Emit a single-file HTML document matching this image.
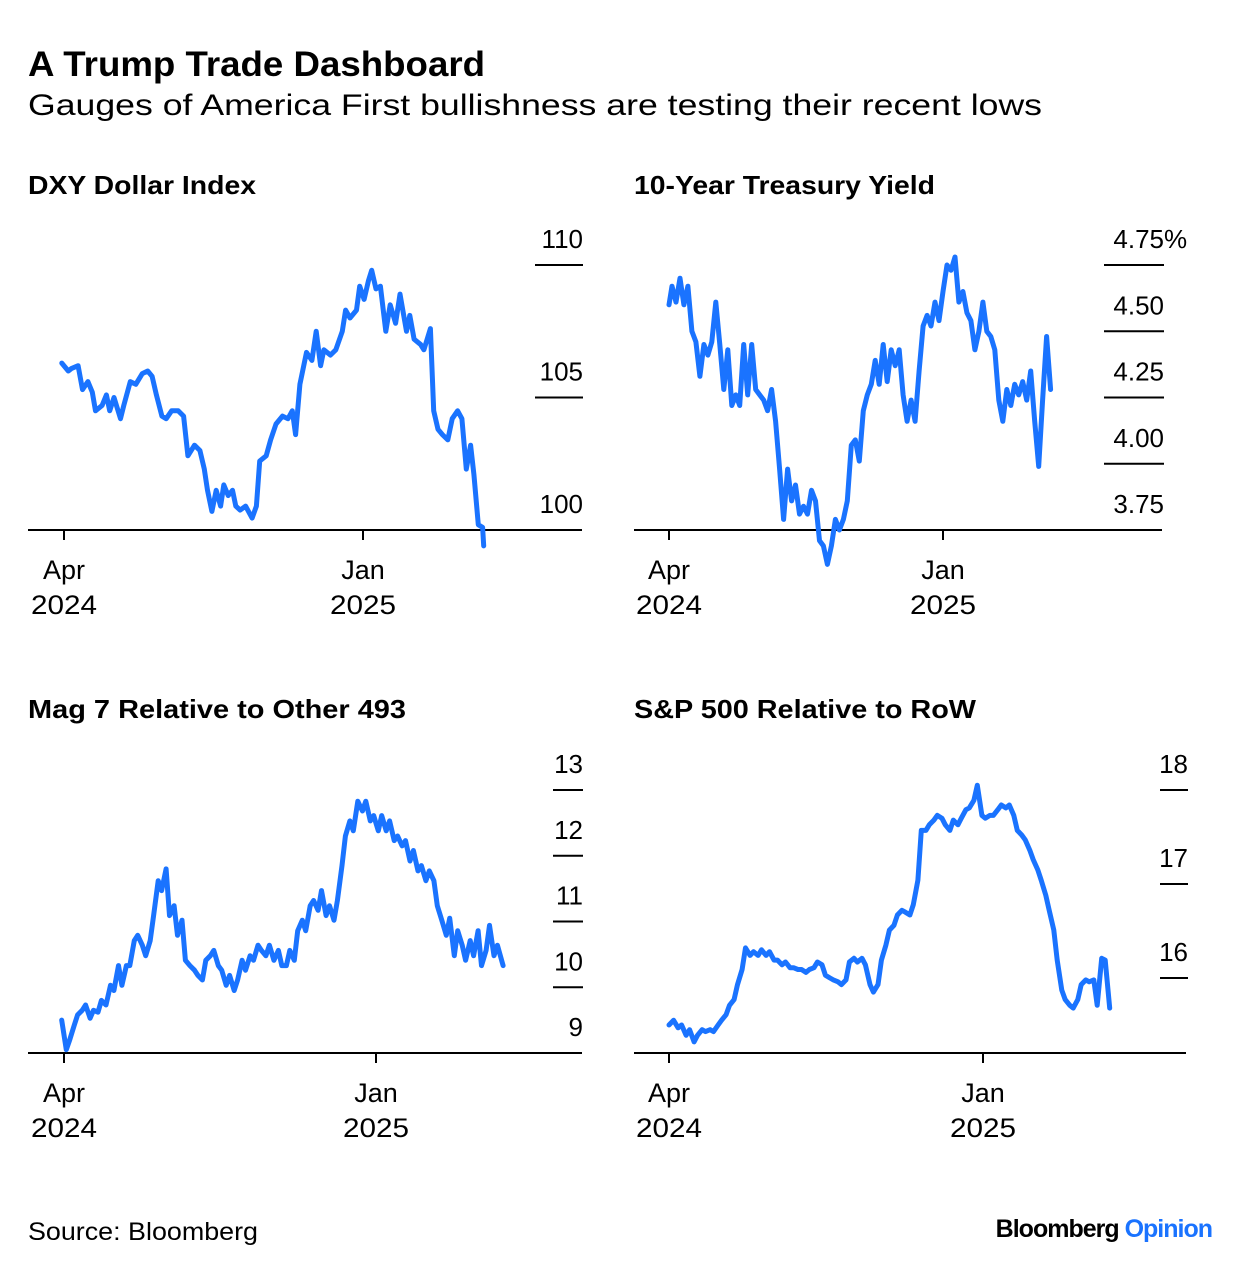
<!DOCTYPE html>
<html>
<head>
<meta charset="utf-8">
<style>
html,body{margin:0;padding:0;background:#fff;}
svg{display:block;font-family:"Liberation Sans",Arial,sans-serif;}
</style>
</head>
<body>
<svg id="chart" width="1240" height="1272" viewBox="0 0 1240 1272" xmlns="http://www.w3.org/2000/svg">
  <rect width="1240" height="1272" fill="#fff"/>
  <text x="28" y="76" font-size="35" font-weight="bold" fill="#000" textLength="457" lengthAdjust="spacingAndGlyphs">A Trump Trade Dashboard</text>
  <text x="28" y="115" font-size="30" fill="#000" textLength="1014" lengthAdjust="spacingAndGlyphs">Gauges of America First bullishness are testing their recent lows</text>
  <text x="28" y="194" font-size="26" font-weight="bold" textLength="228" lengthAdjust="spacingAndGlyphs">DXY Dollar Index</text>
  <text x="634" y="194" font-size="26" font-weight="bold" textLength="301" lengthAdjust="spacingAndGlyphs">10-Year Treasury Yield</text>
  <text x="28" y="718" font-size="26" font-weight="bold" textLength="378" lengthAdjust="spacingAndGlyphs">Mag 7 Relative to Other 493</text>
  <text x="634" y="718" font-size="26" font-weight="bold" textLength="342" lengthAdjust="spacingAndGlyphs">S&amp;P 500 Relative to RoW</text>
  <text x="28" y="1240" font-size="25" textLength="230" lengthAdjust="spacingAndGlyphs">Source: Bloomberg</text>
  <text x="1212" y="1237" font-size="25" font-weight="bold" text-anchor="end" letter-spacing="-1"><tspan fill="#000">Bloomberg </tspan><tspan fill="#1a73ff">Opinion</tspan></text>
  <g id="panels"></g>
</svg>
<script>
// ---- DXY data (days since 2024-04-01) ----
const dxyDays = [-2,4,7,13,17,22,26,29,35,39,42,46,52,55,61,66,72,77,81,85,90,94,99,105,110,114,120,125,129,132,136,140,144,147,151,155,158,162,167,173,177,180,186,190,195,201,206,210,213,217,223,228,232,236,239,245,250,256,259,263,269,272,276,280,283,287,291,296,300,305,309,315,318,322,328,331,337,340,344,348,353,357,362,366,370,374,377,381,385,386];
const dxyValues = [106.3,106.0,106.1,106.2,105.3,105.6,105.2,104.5,104.7,105.1,104.5,105.0,104.2,104.7,105.6,105.5,105.9,106.0,105.8,105.1,104.3,104.2,104.5,104.5,104.3,102.8,103.2,103.0,102.3,101.5,100.7,101.5,100.9,101.7,101.3,101.5,100.9,100.75,100.9,100.45,100.9,102.6,102.8,103.4,104.0,104.3,104.2,104.5,103.6,105.5,106.7,106.4,107.5,106.2,106.8,106.6,106.8,107.5,108.3,108.0,108.3,109.2,108.7,109.4,109.8,109.1,109.2,107.5,108.5,107.8,108.9,107.5,108.1,107.2,107.0,106.8,107.6,104.5,103.8,103.6,103.4,104.2,104.5,104.2,102.3,103.2,102.1,100.2,100.1,99.4];
const dxyTicks = [100,105,110];
const dxyTickLabels = ["100","105","110"];

// ---- 10-year yield ----
const ustDays = [0,3,7,11,15,19,23,27,31,35,39,43,47,51,55,59,63,67,71,75,79,83,87,91,95,99,103,107,111,115,119,123,127,131,135,139,143,147,151,155,159,163,167,171,175,179,183,187,191,195,199,203,207,211,215,219,223,227,231,235,239,243,247,251,255,259,263,267,271,275,279,283,287,291,295,299,303,307,311,315,319,323,327,331,335,339,343,347,351,355,359,363,367,371,375,379,383];
const ustValues = [4.60,4.67,4.61,4.70,4.60,4.67,4.50,4.46,4.33,4.45,4.41,4.46,4.61,4.45,4.28,4.43,4.22,4.26,4.22,4.45,4.26,4.45,4.28,4.26,4.24,4.20,4.28,4.16,3.98,3.79,3.98,3.86,3.92,3.81,3.84,3.81,3.90,3.86,3.71,3.69,3.62,3.69,3.79,3.75,3.79,3.86,4.07,4.09,4.01,4.20,4.26,4.30,4.39,4.30,4.45,4.31,4.43,4.37,4.43,4.26,4.16,4.24,4.16,4.35,4.52,4.56,4.52,4.61,4.54,4.65,4.75,4.73,4.78,4.61,4.65,4.57,4.54,4.43,4.50,4.61,4.50,4.48,4.43,4.24,4.16,4.28,4.22,4.30,4.26,4.31,4.24,4.35,4.16,3.99,4.24,4.48,4.28];
const ustTicks = [3.75,4.00,4.25,4.50,4.75];
const ustTickLabels = ["3.75","4.00","4.25","4.50","4.75"];

// ---- Mag 7 relative ----
const magDays = [-2,2,5,9,12,16,19,23,26,30,33,37,41,44,48,51,55,58,62,65,69,72,76,79,83,86,90,93,97,100,104,107,111,115,118,122,125,129,132,136,139,143,146,150,153,157,160,164,167,171,174,178,181,185,189,192,196,199,203,206,210,213,217,220,224,227,231,234,238,241,245,248,252,255,259,263,266,270,273,277,280,284,287,291,294,298,301,305,308,312,315,319,322,326,329,333,337,340,344,347,351,354,358,361,365,368,372,375,379,382,387];
const magValues = [9.5,9.05,9.2,9.42,9.58,9.65,9.73,9.53,9.65,9.62,9.8,9.73,10.03,9.95,10.33,10.03,10.33,10.33,10.71,10.79,10.64,10.48,10.71,11.09,11.62,11.47,11.80,11.09,11.24,10.79,11.02,10.41,10.33,10.26,10.18,10.11,10.41,10.48,10.56,10.33,10.26,10.03,10.18,9.95,10.11,10.41,10.26,10.48,10.41,10.64,10.56,10.48,10.64,10.41,10.56,10.33,10.33,10.56,10.41,10.86,11.02,10.86,11.24,11.32,11.17,11.47,11.09,11.24,11.02,11.32,11.85,12.30,12.53,12.38,12.83,12.68,12.83,12.53,12.61,12.38,12.61,12.38,12.53,12.23,12.30,12.15,12.23,11.92,12.08,11.77,11.85,11.62,11.77,11.62,11.24,11.02,10.79,11.05,10.48,10.86,10.64,10.41,10.71,10.48,10.86,10.33,10.56,10.94,10.48,10.64,10.33];
const magTicks = [9,10,11,12,13];
const magTickLabels = ["9","10","11","12","13"];

// ---- S&P 500 relative to RoW ----
const spxDays = [0,4,8,11,15,18,22,25,29,32,36,39,43,46,50,53,57,60,64,67,71,74,78,81,85,88,92,95,99,102,106,109,113,116,120,123,127,130,134,137,141,144,148,151,155,158,162,165,169,172,176,179,183,186,190,193,197,200,204,207,211,214,218,221,225,228,232,235,239,242,246,249,253,256,260,263,267,270,274,277,281,284,288,291,295,298,302,305,309,312,316,319,323,326,330,333,337,340,344,347,351,354,358,361,365,368,372,375,379,382,386];
const spxValues = [15.50,15.55,15.47,15.50,15.39,15.45,15.32,15.39,15.45,15.43,15.45,15.43,15.50,15.55,15.61,15.71,15.77,15.93,16.09,16.32,16.24,16.28,16.24,16.30,16.24,16.28,16.19,16.19,16.14,16.17,16.11,16.11,16.09,16.09,16.06,16.09,16.11,16.17,16.14,16.03,16.00,15.98,15.96,15.93,15.98,16.17,16.21,16.17,16.21,16.14,15.93,15.85,15.93,16.19,16.35,16.51,16.56,16.67,16.72,16.70,16.67,16.78,17.04,17.57,17.57,17.63,17.68,17.73,17.70,17.63,17.57,17.68,17.63,17.70,17.79,17.81,17.89,18.05,17.73,17.70,17.73,17.73,17.79,17.84,17.81,17.84,17.73,17.57,17.52,17.47,17.36,17.26,17.15,17.04,16.88,16.72,16.51,16.19,15.87,15.77,15.71,15.68,15.77,15.93,15.98,15.96,15.98,15.71,16.21,16.19,15.68];
const spxTicks = [16,17,18];
const spxTickLabels = ["16","17","18"];

const NS = "http://www.w3.org/2000/svg";
const root = document.getElementById("panels");
function mk(tag, attrs, parent){
  const e = document.createElementNS(NS, tag);
  for (const k in attrs) e.setAttribute(k, attrs[k]);
  (parent||root).appendChild(e);
  return e;
}

function drawPanel(key, days, values, ticks, tickLabels, L){
  const g = mk("g", {});
  
  
  const xScale = d => L.aprX + d * (L.janX - L.aprX) / 275;
  const yScale = v => L.yA + (v - L.vA) * (L.yB - L.yA) / (L.vB - L.vA);
  ticks.forEach((t, i) => {
    const gy = yScale(t);
    if (Math.abs(gy - L.baseY) > 2) {
      const gl = mk("line", {x1:L.gx0, x2:L.gx1, y1:gy, y2:gy, stroke:"#000", "stroke-width":2}, g);
      
      
    }
    const tx = mk("text", {x:L.labelX, y:gy-17, "font-size":26, "text-anchor":"end"}, g);
    tx.textContent = tickLabels[i];
    
    
    if (L.pct && i === ticks.length-1) {
      const p = mk("text", {x:L.labelX, y:gy-17, "font-size":26}, g);
      p.textContent = "%";
      
      
    }
  });
  const ax = mk("line", {x1:L.x0, x2:L.x1, y1:L.baseY, y2:L.baseY, stroke:"#000", "stroke-width":2}, g);
  
  
  [[0,"Apr","2024"],[275,"Jan","2025"]].forEach(([d,m,yr]) => {
    const x = xScale(d);
    const tk = mk("line", {x1:x, x2:x, y1:L.baseY, y2:L.baseY+10, stroke:"#000", "stroke-width":2}, g);
    
    
    const t1 = mk("text", {x:x, y:L.baseY+49, "font-size":27, "text-anchor":"middle"}, g);
    t1.textContent = m;
    
    
    const t2 = mk("text", {x:x, y:L.baseY+84, "font-size":27, "text-anchor":"middle", textLength:66, lengthAdjust:"spacingAndGlyphs"}, g);
    t2.textContent = yr;
    
    
  });
  const n = Math.min(days.length, values.length);
  let dstr = "";
  for (let i = 0; i < n; i++) {
    dstr += (i ? "L" : "M") + xScale(days[i]).toFixed(1) + "," + yScale(values[i]).toFixed(1);
  }
  const path = mk("path", {d:dstr, fill:"none", stroke:"#1a73ff", "stroke-width":5, "stroke-linejoin":"round", "stroke-linecap":"round"}, g);
  
  
}

drawPanel("dxy", dxyDays, dxyValues, dxyTicks, dxyTickLabels,
  {x0:28, x1:582, baseY:530, aprX:64, janX:363, vA:100, yA:530, vB:110, yB:265, gx0:535, gx1:583, labelX:583});
drawPanel("treasury", ustDays, ustValues, ustTicks, ustTickLabels,
  {x0:634, x1:1162, baseY:530, aprX:669, janX:943, vA:3.75, yA:530, vB:4.75, yB:265, gx0:1104, gx1:1164, labelX:1164, pct:true});
drawPanel("mag7", magDays, magValues, magTicks, magTickLabels,
  {x0:28, x1:582, baseY:1053, aprX:64, janX:376, vA:9, yA:1053, vB:13, yB:790, gx0:553, gx1:583, labelX:583});
drawPanel("spx", spxDays, spxValues, spxTicks, spxTickLabels,
  {x0:634, x1:1186, baseY:1053, aprX:669, janX:983, vA:17, yA:884, vB:18, yB:790, gx0:1160, gx1:1188, labelX:1188});
</script>
</body>
</html>
